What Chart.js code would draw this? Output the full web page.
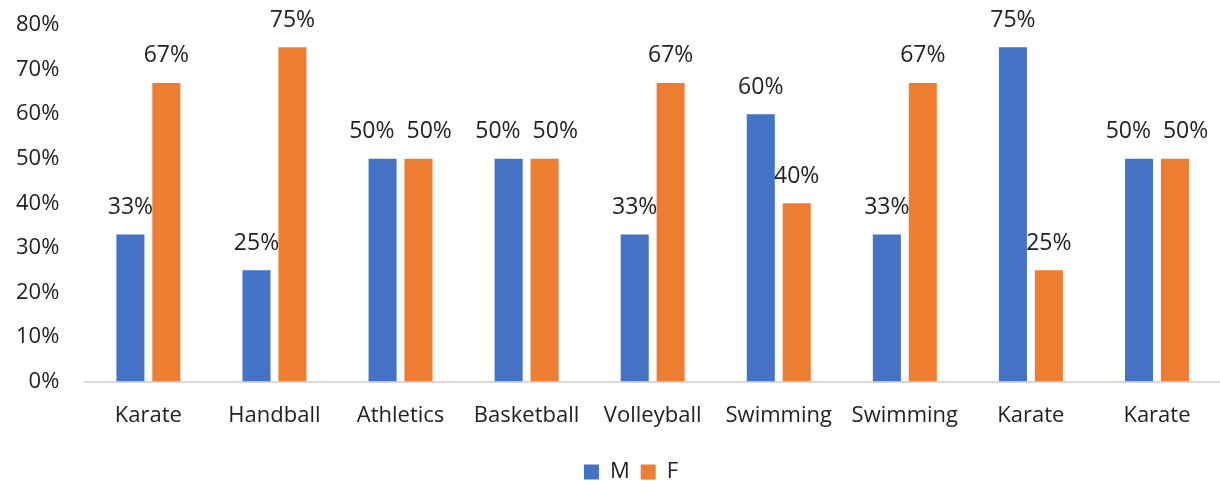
<!DOCTYPE html>
<html>
<head>
<meta charset="utf-8">
<script src="https://cdn.jsdelivr.net/npm/chart.js@4"></script>
<style>
  html, body { margin: 0; padding: 0; background: #fff; }
  #wrap { width: 1220px; height: 481px; }
</style>
</head>
<body>
<div id="wrap"><canvas id="barChart"></canvas></div>
<script>
const categories = ["Karate", "Handball", "Athletics", "Basketball", "Volleyball", "Swimming", "Swimming", "Karate", "Karate"];
const maleValues = [33, 25, 50, 50, 33, 60, 33, 75, 50];
const femaleValues = [67, 75, 50, 50, 67, 40, 67, 25, 50];
const yTicks = [0, 10, 20, 30, 40, 50, 60, 70, 80];

const FONT = "'Open Sans', 'Liberation Sans', sans-serif";

// draws the % value over each bar, nudging apart labels that would collide
const barLabels = {
  id: "barLabels",
  afterDatasetsDraw(chart) {
    const ctx = chart.ctx;
    ctx.save();
    ctx.font = "23px " + FONT;
    ctx.fillStyle = "#222";
    ctx.textAlign = "center";
    ctx.textBaseline = "middle";
    const m = chart.getDatasetMeta(0).data;
    const f = chart.getDatasetMeta(1).data;
    categories.forEach((c, j) => {
      const t1 = maleValues[j] + "%";
      const t2 = femaleValues[j] + "%";
      let x1 = m[j].x;
      let x2 = f[j].x;
      if (Math.abs(m[j].y - f[j].y) < 24) {
        const need = ctx.measureText(t1).width / 2 + ctx.measureText(t2).width / 2 + 12;
        const diff = need - (x2 - x1);
        if (diff > 0) {
          x1 -= diff / 2;
          x2 += diff / 2;
        }
      }
      ctx.fillText(t1, x1, m[j].y - 27);
      ctx.fillText(t2, x2, f[j].y - 27);
    });
    ctx.restore();
  },
};

// legend sits a bit right of centre in the original
const legendShift = {
  id: "legendShift",
  afterLayout(chart) {
    chart.legend.left += 22;
    chart.legend.right += 22;
  },
};

new Chart(document.getElementById("barChart"), {
  type: "bar",
  data: {
    labels: categories,
    datasets: [
      {
        label: "M",
        data: maleValues,
        backgroundColor: "#4472C4",
        barPercentage: 0.78,
        categoryPercentage: 0.57,
      },
      {
        label: "F",
        data: femaleValues,
        backgroundColor: "#ED7D31",
        barPercentage: 0.78,
        categoryPercentage: 0.57,
      },
    ],
  },
  options: {
    responsive: true,
    maintainAspectRatio: false,
    animation: false,
    layout: { padding: { left: -10, right: -8, top: 0, bottom: -12 } },
    scales: {
      x: {
        afterFit: (axis) => {
          axis.paddingRight = -8;
        },
        grid: { display: false, drawTicks: false },
        border: { display: true, color: "#d9d9d9", width: 2 },
        ticks: { color: "#222", font: { family: FONT, size: 22 }, padding: 21 },
      },
      y: {
        min: 0,
        max: 80,
        afterBuildTicks: (axis) => {
          axis.ticks = yTicks.map((v) => ({ value: v }));
        },
        afterFit: (axis) => {
          axis.paddingTop = 25;
          axis.paddingBottom = 0;
          axis.paddingRight = -8;
        },
        grid: { display: false, drawTicks: false },
        border: { display: false },
        ticks: {
          color: "#222",
          font: { family: FONT, size: 22 },
          padding: 26,
          callback: (v) => v + "%",
        },
      },
    },
    plugins: {
      legend: {
        position: "bottom",
        labels: {
          color: "#222",
          font: { family: FONT, size: 22 },
          boxWidth: 15,
          boxHeight: 15,
          padding: 11,
        },
      },
      tooltip: { enabled: false },
    },
  },
  plugins: [barLabels, legendShift],
});
</script>
</body>
</html>
